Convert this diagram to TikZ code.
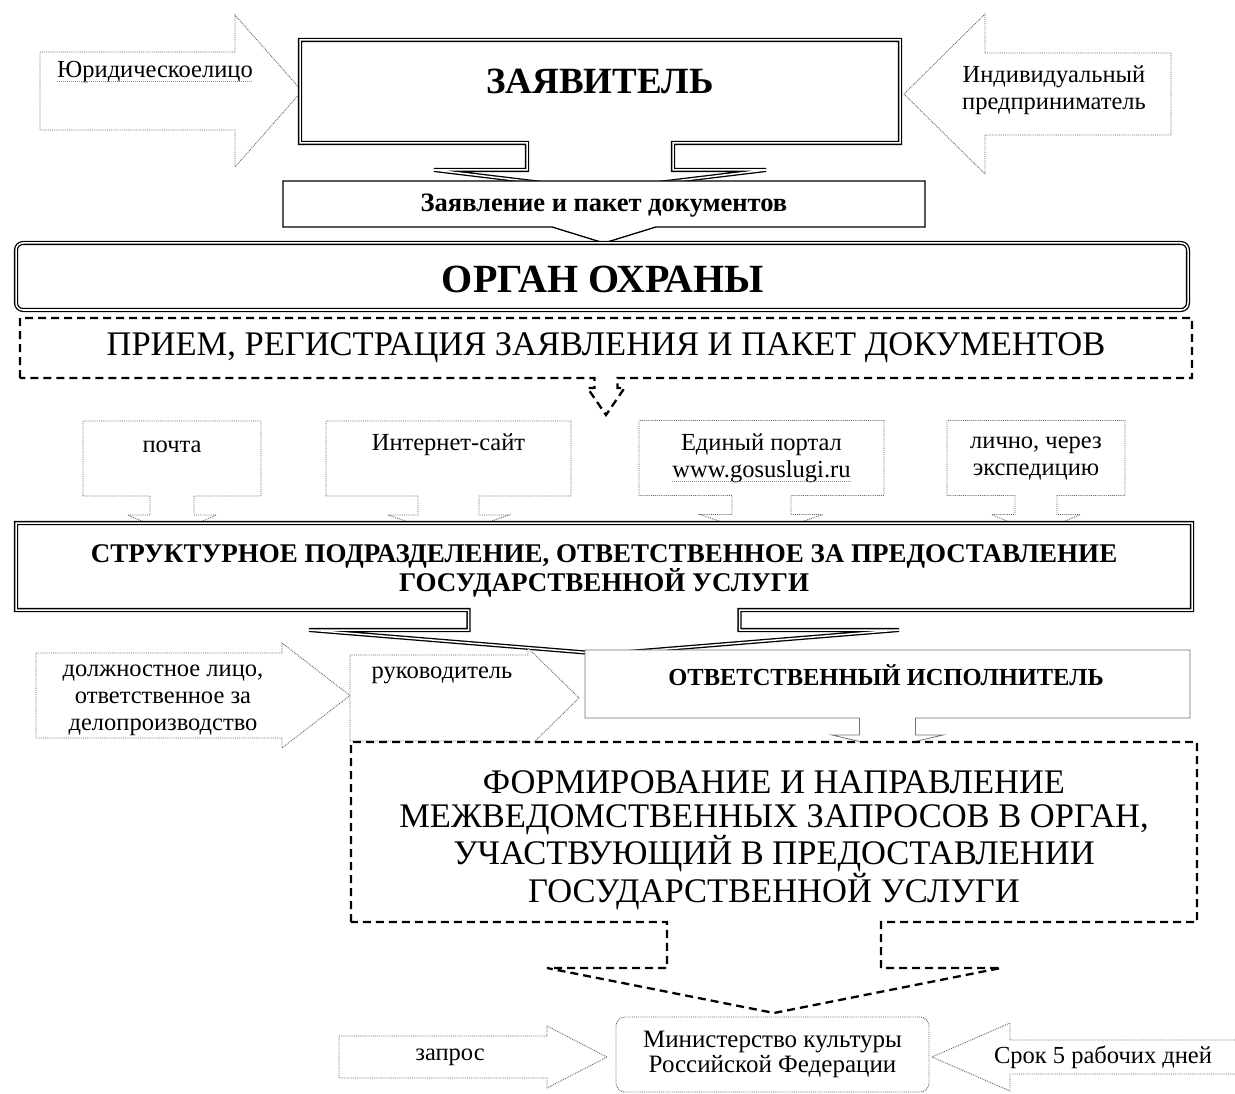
\documentclass[tikz,border=0pt]{standalone}
\usepackage{fontspec}
\setmainfont{Liberation Serif}
\usepackage{tikz}
\usetikzlibrary{calc,positioning}

\newcommand{\pxfont}[2]{\fontsize{#1}{#2}\selectfont}
% box with a down arrow: style, node, neck half, neck length, wing half, tip depth
\newcommand{\downcall}[6]{%
  \draw[#1] (#2.south west) -- (#2.north west) -- (#2.north east)
    -- (#2.south east) -- ($(#2.south)+(#3,0)$) -- ($(#2.south)+(#3,#4)$)
    -- ($(#2.south)+(#5,#4)$) -- ($(#2.south)+(0,#6)$)
    -- ($(#2.south)+(-#5,#4)$) -- ($(#2.south)+(-#3,#4)$)
    -- ($(#2.south)+(-#3,0)$) -- cycle;}
% box with a right arrow: style, node, head half, head length
\newcommand{\rightcall}[4]{%
  \draw[#1] (#2.north east) -- (#2.north west) -- (#2.south west)
    -- (#2.south east) -- ($(#2.east)+(0,#3)$) -- ($(#2.east)+(#4,0)$)
    -- ($(#2.east)+(0,-#3)$) -- cycle;}
% box with a left arrow
\newcommand{\leftcall}[4]{%
  \draw[#1] (#2.north west) -- (#2.north east) -- (#2.south east)
    -- (#2.south west) -- ($(#2.west)+(0,#3)$) -- ($(#2.west)+(-#4,0)$)
    -- ($(#2.west)+(0,-#3)$) -- cycle;}

\begin{document}
\begin{tikzpicture}[
  x=1pt, y=-1pt,
  frame/.style={rectangle, inner sep=0pt, outer sep=0pt},
  dblbox/.style={draw=black, double=white, double distance=1.5pt,
    line width=1.3pt, fill=white},
  dotbox/.style={draw=black!60, densely dotted, line width=0.9pt, fill=white},
  dashbox/.style={draw=black, line width=2.3pt, dash pattern=on 8pt off 5pt,
    fill=white},
  solidbox/.style={draw=black, line width=1.3pt, fill=white},
  lightbox/.style={draw=black!55, line width=0.8pt, fill=white},
  smalltxt/.style={font=\pxfont{24.5}{27}, align=center, inner sep=0pt},
  squig/.style={draw=black!45, densely dotted, line width=1pt}
]
\useasboundingbox (0,0) rectangle (1235,1094);

% applicants
\node[frame, minimum width=195pt, minimum height=78pt] (jur) at (137.5,91) {};
\rightcall{dotbox}{jur}{76}{67}
\node[smalltxt] (jurt) at ($(jur.north)+(17.5,20)$) {Юридическоелицо};
\draw[squig] ($(jurt.base west)+(0,4)$) -- ($(jurt.base east)+(0,4)$);

\node[frame, minimum width=186pt, minimum height=82pt] (ind) at (1078,94) {};
\leftcall{dotbox}{ind}{80}{81}
\node[smalltxt] (indt) at ($(ind.north)+(-24,37)$) {Индивидуальный\\предприниматель};

\node[frame, minimum width=600pt, minimum height=103pt] (zv) at (600,91.5) {};
\downcall{dblbox}{zv}{73}{27}{166}{47}
\node[font=\pxfont{37}{40}\bfseries, inner sep=0pt] (zvt) at ($(zv.north)+(0,41)$) {ЗАЯВИТЕЛЬ};

\node[frame, minimum width=642pt, minimum height=46pt] (zp) at (604,204) {};
\downcall{solidbox}{zp}{52}{0}{52}{16}
\node[font=\pxfont{26.5}{28}\bfseries, inner sep=0pt] (zpt) at ($(zp.center)+(0,2)$) {Заявление и пакет документов};

% authority
\node[frame, dblbox, rounded corners=7pt, minimum width=1172pt, minimum height=67pt]
  (org) at (602,276.5) {};
\node[font=\pxfont{40}{42}\bfseries, inner sep=0pt] (orgt) at ($(org.center)+(1,3)$) {ОРГАН ОХРАНЫ};

\node[frame, minimum width=1172pt, minimum height=60pt] (priem) at (606,348) {};
\downcall{dashbox}{priem}{11.5}{10}{18.5}{37}
\node[font=\pxfont{34.5}{36}, inner sep=0pt] (priemt) at (priem.center)
  {ПРИЕМ, РЕГИСТРАЦИЯ ЗАЯВЛЕНИЯ И ПАКЕТ ДОКУМЕНТОВ};

% channels
\node[frame, minimum width=178pt, minimum height=75pt] (pochta) at (172,458.5) {};
\node[frame, minimum width=245pt, minimum height=75pt] (inet) at (448.5,458.5) {};
\node[frame, minimum width=245pt, minimum height=75pt] (edin) at (761.5,458) {};
\node[frame, minimum width=178pt, minimum height=75pt] (lichno) at (1036,458) {};
\downcall{dotbox}{pochta}{22}{19}{44.5}{38}
\downcall{dotbox}{inet}{30.5}{19}{60.5}{40}
\downcall{dotbox}{edin}{29.5}{19}{61.5}{40}
\downcall{dotbox}{lichno}{21}{19}{44.5}{38}
\node[smalltxt] (pochtat) at ($(pochta.north)+(0,26)$) {почта};
\node[smalltxt] (inett) at ($(inet.north)+(0,24)$) {Интернет-сайт};
\node[smalltxt] (edint) at ($(edin.north)+(0,24.5)$) {Единый портал};
\node[smalltxt] (edinu) at ($(edin.north)+(0,51)$) {www.gosuslugi.ru};
\draw[squig] ($(edinu.base west)+(0,4)$) -- ($(edinu.base east)+(0,4)$);
\node[smalltxt] (lichnot) at ($(lichno.north)+(0,38)$) {лично, через\\экспедицию};

% structural unit
\node[frame, minimum width=1176pt, minimum height=87pt] (str) at (604,566.5) {};
\downcall{dblbox}{str}{135.5}{20}{295}{44}
\node[font=\pxfont{27}{29}\bfseries, align=center, inner sep=0pt] (strt) at ($(str.center)+(0,4)$)
  {СТРУКТУРНОЕ ПОДРАЗДЕЛЕНИЕ, ОТВЕТСТВЕННОЕ ЗА ПРЕДОСТАВЛЕНИЕ\\ГОСУДАРСТВЕННОЙ УСЛУГИ};

% officials
\node[frame, minimum width=246pt, minimum height=85pt] (dolzh) at (159,695.5) {};
\rightcall{dotbox}{dolzh}{52.5}{68}
\node[smalltxt] (dolzht) at ($(dolzh.center)+(4,4.5)$)
  {должностное лицо,\\ответственное за\\делопроизводство};

\node[frame, minimum width=178pt, minimum height=86pt] (ruk) at (439,698) {};
\rightcall{dotbox}{ruk}{50}{51}
\node[smalltxt] (rukt) at ($(ruk.north)+(3,20)$) {руководитель};

\node[frame, minimum width=605pt, minimum height=68pt] (otv) at (887.5,684) {};
\downcall{lightbox}{otv}{28}{17}{55.5}{30}
\node[font=\pxfont{24.5}{27}\bfseries, inner sep=0pt] (otvt) at ($(otv.north)+(-1.5,25)$)
  {ОТВЕТСТВЕННЫЙ ИСПОЛНИТЕЛЬ};

% requests
\node[frame, minimum width=846pt, minimum height=180pt] (form) at (774,832) {};
\downcall{dashbox}{form}{107}{46}{227}{91}
\node[font=\pxfont{34.5}{34}, align=center, inner sep=0pt] (formt) at ($(form.center)+(0,8)$)
  {ФОРМИРОВАНИЕ И НАПРАВЛЕНИЕ\\МЕЖВЕДОМСТВЕННЫХ ЗАПРОСОВ В ОРГАН,\\УЧАСТВУЮЩИЙ В ПРЕДОСТАВЛЕНИИ\\ГОСУДАРСТВЕННОЙ УСЛУГИ};

\node[frame, dotbox, rounded corners=9pt, minimum width=313pt, minimum height=75pt,
  smalltxt, font=\pxfont{25}{25}] (min) at (772.5,1054.5)
  {Министерство культуры\\Российской Федерации};

\node[frame, minimum width=208pt, minimum height=42pt] (zapr) at (443,1057) {};
\rightcall{dotbox}{zapr}{31}{60}
\node[smalltxt] (zaprt) at ($(zapr.center)+(7,0)$) {запрос};

\node[frame, minimum width=235pt, minimum height=34pt] (srok) at (1127.5,1057) {};
\leftcall{dotbox}{srok}{34}{78}
\node[smalltxt] (srokt) at ($(srok.center)+(-24.5,0)$) {Срок 5 рабочих дней};
\end{tikzpicture}
\end{document}
